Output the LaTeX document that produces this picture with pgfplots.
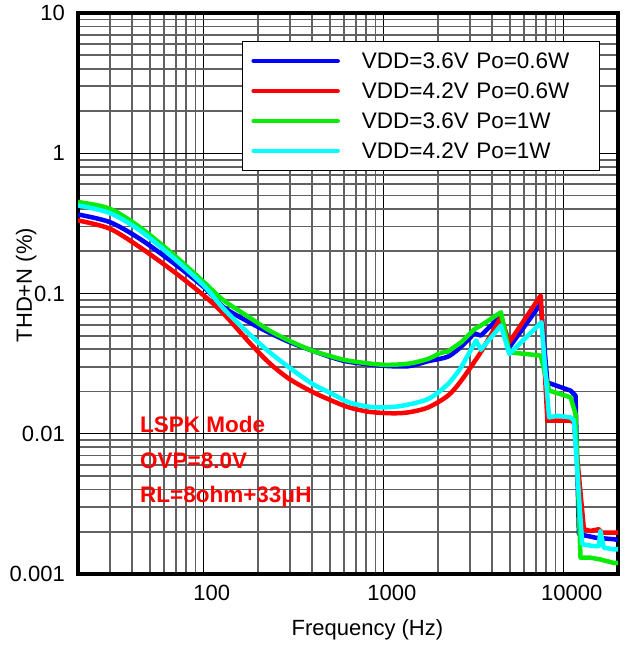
\documentclass[border=0pt]{standalone}
\usepackage{fontspec}
\setmainfont{Liberation Sans}
\usepackage{pgfplots}
\pgfplotsset{compat=1.18}
\definecolor{cblue}{RGB}{0,0,255}
\definecolor{cred}{RGB}{255,0,0}
\definecolor{cgreen}{RGB}{10,235,10}
\definecolor{ccyan}{RGB}{0,255,255}
\begin{document}
\begin{tikzpicture}
\useasboundingbox (-78pt,-71pt) rectangle (547pt,574pt);
\begin{axis}[
  at={(0pt,0pt)}, anchor=south west,
  scale only axis, width=540pt, height=561pt,
  xmode=log, ymode=log,
  xmin=20, xmax=20000, ymin=0.001, ymax=10,
  xtick={100,1000,10000}, xticklabels={100,1000,10000},
  ytick={0.001,0.01,0.1,1,10}, yticklabels={0.001,0.01,0.1,1,10},
  minor xtick={20,30,40,50,60,70,80,90,200,300,400,500,600,700,800,900,2000,3000,4000,5000,6000,7000,8000,9000},
  minor ytick={0.002,0.003,0.004,0.005,0.006,0.007,0.008,0.009,0.02,0.03,0.04,0.05,0.06,0.07,0.08,0.09,0.2,0.3,0.4,0.5,0.6,0.7,0.8,0.9,2,3,4,5,6,7,8,9},
  grid=both,
  minor grid style={draw=black!62, line width=1.8pt},
  major grid style={draw=black, line width=0.9pt},
  axis line style={line width=3.5pt},
  tick style={draw=none},
  ticklabel style={font=\fontsize{22}{26}\selectfont, inner sep=0pt},
  x tick label style={anchor=north, yshift=-11pt, xshift=8pt},
  y tick label style={anchor=east, xshift=-13pt},
  xlabel={Frequency (Hz)},
  ylabel={THD+N (\%)},
  label style={font=\fontsize{22}{26}\selectfont, inner sep=0pt},
  xlabel style={at={(axis description cs:0.536,0)}, anchor=base, yshift=-61pt},
  ylabel style={at={(axis description cs:-0.0852,0.515)}, anchor=base},
  legend style={at={(rel axis cs:0.3037,0.9501)}, anchor=north west,
    draw=black, line width=0.8pt, fill=white,
    inner xsep=7pt, inner ysep=4.5pt, row sep=0pt,
    font=\fontsize{22.5}{26}\selectfont,
    cells={anchor=west},
    nodes={inner xsep=0pt, inner ysep=0pt, text height=23pt, text depth=7pt, text width=230pt, align=left}},
  legend image code/.code={
    \draw[#1, line width=4.5pt, line cap=round] (2pt,0pt) -- (86pt,0pt);
    \path (0pt,0pt) (108pt,0pt);
  },
  every axis plot/.append style={line width=4.5pt, line join=round},
]
% ---- VDD=3.6V Po=0.6W (blue)
\addplot[cblue, smooth] coordinates {
(20,0.366) (30,0.323) (44,0.246) (68.7,0.163) (100,0.111) (129,0.0798)
(178.7,0.0624) (230,0.0527) (297,0.0452) (399,0.0392) (515,0.0350)
(636,0.0326) (972,0.0306) (1366,0.0303) (1762,0.0329) (2271,0.0355)
(2691,0.0418)
};
\addlegendentry{VDD=3.6V Po=0.6W}
\addplot[cblue, forget plot] coordinates {
(2691,0.0418) (3189,0.0520) (3460,0.0501) (4474,0.0697) (4978,0.0413)
(7444,0.0844) (8106,0.0232) (10902,0.0203) (11616,0.0187) (12130,0.00192)
(13482,0.00187) (14984,0.001816) (18934,0.00177) (20000,0.00175)
};
% ---- VDD=4.2V Po=0.6W (red)
\addplot[cred, smooth] coordinates {
(20,0.332) (30,0.290) (44,0.2143) (68.7,0.142) (100,0.0968) (129,0.0716)
(178.7,0.0449) (230,0.03215) (297,0.0247) (399,0.01995) (515,0.0172)
(636,0.01546) (821,0.01436) (1104,0.0140) (1366,0.0142) (1762,0.0154)
(2271,0.0187) (2691,0.0239) (3460,0.0381)
};
\addlegendentry{VDD=4.2V Po=0.6W}
\addplot[cred, forget plot] coordinates {
(3460,0.0381) (4474,0.0677) (4978,0.0449)
(7444,0.0968) (8106,0.01239) (10902,0.01239) (11382,0.01205) (12928,0.002086)
(14062,0.00203) (15646,0.002086) (16318,0.00197) (18934,0.00197) (20000,0.00197)
};
% ---- VDD=3.6V Po=1W (green)
\addplot[cgreen, smooth] coordinates {
(20,0.449) (30,0.4027) (44,0.2976) (68.7,0.1868) (100,0.1205) (129,0.0892)
(178.7,0.0677) (230,0.0547) (297,0.0462) (399,0.0392) (515,0.0355)
(636,0.0332) (972,0.0311) (1366,0.0316) (1762,0.0342) (2043,0.0376)
};
\addlegendentry{VDD=3.6V Po=1W}
\addplot[cgreen, forget plot] coordinates {
(2043,0.0376) (2271,0.0386) (2691,0.0449) (3189,0.0557) (3460,0.0591) (4474,0.0735)
(4978,0.0381) (7444,0.0361) (8284,0.0203) (10902,0.0182) (11616,0.01383)
(12380,0.001307) (14062,0.001307) (15968,0.00127) (18934,0.0012) (20000,0.0012)
};
% ---- VDD=4.2V Po=1W (cyan)
\addplot[ccyan, smooth] coordinates {
(20,0.425) (30,0.375) (44,0.282) (68.7,0.177) (100,0.1138) (129,0.0778)
(178.7,0.0515) (230,0.0385) (297,0.0298) (399,0.0228) (515,0.0193)
(636,0.0168) (821,0.0156) (972,0.0154) (1254,0.0158) (1762,0.0177)
(2271,0.0226) (2691,0.0298)
};
\addlegendentry{VDD=4.2V Po=1W}
\addplot[ccyan, forget plot] coordinates {
(2691,0.0298) (3254,0.0462) (3460,0.0397) (4474,0.0591)
(4978,0.0371) (7510,0.0624) (8284,0.01307) (9206,0.01344) (10902,0.01307)
(11382,0.01239) (12650,0.00163) (14682,0.00158) (15646,0.00158) (15968,0.00203)
(16674,0.00154) (18934,0.0015) (20000,0.0015)
};
\node[anchor=base west, text=cred, font=\bfseries\fontsize{22.5}{26}\selectfont, inner sep=0pt] at (rel axis cs:0.1148,0.2531) {LSPK Mode};
\node[anchor=base west, text=cred, font=\bfseries\fontsize{22.5}{26}\selectfont, inner sep=0pt] at (rel axis cs:0.1148,0.1889) {OVP=8.0V};
\node[anchor=base west, text=cred, font=\bfseries\fontsize{22.5}{26}\selectfont, inner sep=0pt] at (rel axis cs:0.1148,0.1283) {RL=8ohm+33μH};
\end{axis}
\end{tikzpicture}
\end{document}
